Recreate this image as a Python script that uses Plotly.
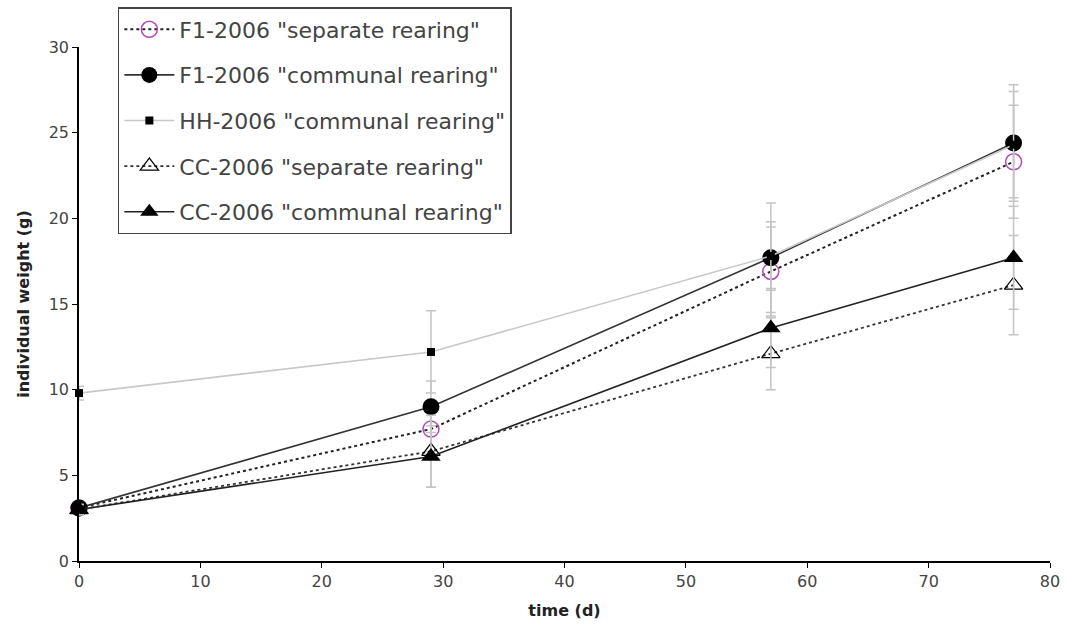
import plotly.graph_objects as go

days = [0, 29, 57, 77]

f1_sep = [3.1, 7.7, 16.9, 23.3]
f1_sep_err = [0.3, 1.3, 2.6, 3.3]
f1_com = [3.1, 9.0, 17.7, 24.4]
f1_com_err = [0.3, 1.5, 3.2, 3.4]
hh_com = [9.8, 12.2, 17.8, 24.3]
hh_com_err = [0.4, 2.4, 2.0, 3.1]
cc_sep = [3.0, 6.4, 12.1, 16.1]
cc_sep_err = [0.3, 2.1, 2.1, 2.9]
cc_com = [3.0, 6.1, 13.6, 17.7]
cc_com_err = [0.3, 1.8, 2.3, 3.0]

names = ['F1-2006 "separate rearing"', 'F1-2006 "communal rearing"',
         'HH-2006 "communal rearing"', 'CC-2006 "separate rearing"',
         'CC-2006 "communal rearing"']

err_col = "#c4c4c4"

def eb(arr):
    return dict(type="data", array=arr, visible=True, color=err_col,
                thickness=1.5, width=5)

fig = go.Figure()
traces = [
    dict(y=f1_sep, e=f1_sep_err, name=names[0],
         line=dict(color="#222222", width=2, dash="dot"),
         marker=dict(symbol="circle-open", size=16, color="#b24bb8",
                     line=dict(width=1.5, color="#b24bb8"))),
    dict(y=f1_com, e=f1_com_err, name=names[1],
         line=dict(color="#333333", width=1.6),
         marker=dict(symbol="circle", size=17, color="#000000")),
    dict(y=hh_com, e=hh_com_err, name=names[2],
         line=dict(color="#c8c8c8", width=1.6),
         marker=dict(symbol="square", size=8, color="#000000")),
    dict(y=cc_sep, e=cc_sep_err, name=names[3],
         line=dict(color="#333333", width=1.8, dash="dot"),
         marker=dict(symbol="triangle-up-open", size=16, color="#000000",
                     line=dict(width=1.2, color="#000000"))),
    dict(y=cc_com, e=cc_com_err, name=names[4],
         line=dict(color="#222222", width=1.6),
         marker=dict(symbol="triangle-up", size=17, color="#000000")),
]

for i, t in enumerate(traces):
    fig.add_trace(go.Scatter(
        x=days, y=t["y"], name=t["name"], mode="lines+markers",
        line=t["line"], marker=t["marker"], error_y=eb(t["e"]),
        legendgroup=f"g{i}", legendrank=i + 1, cliponaxis=False,
    ))

fig.update_layout(
    width=1067, height=639,
    paper_bgcolor="white", plot_bgcolor="white",
    margin=dict(l=79, r=17, t=5, b=78, autoexpand=False),
    font=dict(family="DejaVu Sans, sans-serif", color="#333333"),
    showlegend=True,
    legend=dict(
        x=0.04, y=0.9964, xanchor="left", yanchor="top",
        bordercolor="#444444", borderwidth=1.5, bgcolor="white",
        font=dict(size=22, color="#444444", family="DejaVu Sans, sans-serif"),
        tracegroupgap=14, itemwidth=50,
    ),
    xaxis=dict(
        range=[0, 80], dtick=10, tick0=0, showgrid=False, zeroline=False,
        showline=True, linecolor="#000000", linewidth=1.5,
        ticks="outside", ticklen=5, tickcolor="#000000", automargin=False,
        tickfont=dict(size=16, color="#444444"),
        title=dict(text="<b>time (d)</b>", font=dict(size=16, color="#222222")),
    ),
    yaxis=dict(
        domain=[0, 514 / 556],
        range=[0, 30], dtick=5, tick0=0, showgrid=False, zeroline=False,
        showline=True, linecolor="#000000", linewidth=1.5,
        ticks="outside", ticklen=5, tickcolor="#000000", automargin=False,
        tickfont=dict(size=16, color="#444444"),
        title=dict(text="<b>individual weight (g)</b>",
                   font=dict(size=16, color="#222222")),
    ),
)

fig.write_html("out.html", config={"displayModeBar": False},
               post_script="document.body.style.margin='0px';")
